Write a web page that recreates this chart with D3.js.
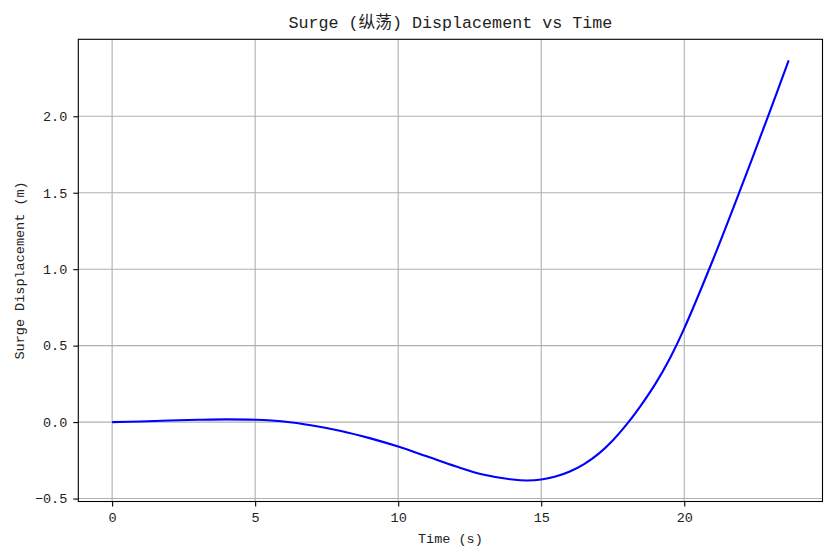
<!DOCTYPE html>
<html>
<head>
<meta charset="utf-8">
<script src="https://cdn.jsdelivr.net/npm/d3@7"></script>
<style>
    html, body { margin: 0; padding: 0; background: #fff; }
    svg text { font-family: "Liberation Mono", "DejaVu Sans Mono", "Noto Sans CJK SC", monospace; fill: #222; }
</style>
</head>
<body>
<svg id="chart" width="834" height="558"></svg>
<script>
// -------------------------
// Data
// -------------------------
const timeS = [0, 1, 2, 3, 4, 5, 6, 7, 8, 9, 10, 11, 12, 13, 14, 14.5, 15, 15.5, 16, 16.5,
    17, 17.5, 18, 18.5, 19, 19.5, 20, 21, 22, 23, 23.65];
const surgeM = [0.000, 0.004, 0.010, 0.015, 0.018, 0.015, 0.004, -0.022, -0.058, -0.105,
    -0.160, -0.224, -0.289, -0.345, -0.376, -0.382, -0.376, -0.356, -0.323, -0.275,
    -0.208, -0.120, -0.012, 0.113, 0.253, 0.418, 0.613, 1.060, 1.540, 2.035, 2.366];
const xTicks = [0, 5, 10, 15, 20];
const yTicks = [-0.5, 0.0, 0.5, 1.0, 1.5, 2.0];
const titleText = "Surge (纵荡) Displacement vs Time";
const xLabel = "Time (s)";
const yLabel = "Surge Displacement (m)";

const points = timeS.map((t, i) => ({t: t, v: surgeM[i]}));

// -------------------------
// Layout
// -------------------------
const W = 834, H = 558;
const margin = {top: 39.3, right: 11.5, bottom: 56.5, left: 78.3};
const iw = W - margin.left - margin.right;
const ih = H - margin.top - margin.bottom;

// matplotlib-like 5% padding around the data
function padded(ext) {
    const pad = (ext[1] - ext[0]) * 0.05;
    return [ext[0] - pad, ext[1] + pad];
}

const x = d3.scaleLinear().domain(padded(d3.extent(timeS))).range([0, iw]);
const y = d3.scaleLinear().domain(padded(d3.extent(surgeM))).range([ih, 0]);

const svg = d3.select("#chart");
const g = svg.append("g").attr("transform", `translate(${margin.left},${margin.top})`);

// -------------------------
// Grid
// -------------------------
g.append("g")
    .selectAll("line")
    .data(xTicks)
    .enter()
    .append("line")
    .attr("x1", d => x(d)).attr("x2", d => x(d))
    .attr("y1", 0).attr("y2", ih)
    .attr("stroke", "#b0b0b0")
    .attr("stroke-width", 1.1);

g.append("g")
    .selectAll("line")
    .data(yTicks)
    .enter()
    .append("line")
    .attr("x1", 0).attr("x2", iw)
    .attr("y1", d => y(d)).attr("y2", d => y(d))
    .attr("stroke", "#b0b0b0")
    .attr("stroke-width", 1.1);

// -------------------------
// Line
// -------------------------
const line = d3.line()
    .x(d => x(d.t))
    .y(d => y(d.v))
    .curve(d3.curveCatmullRom.alpha(0.5));

g.append("path")
    .datum(points)
    .attr("d", line)
    .attr("fill", "none")
    .attr("stroke", "#0000ff")
    .attr("stroke-width", 2.1)
    .attr("stroke-linejoin", "round")
    .attr("stroke-linecap", "butt");

// -------------------------
// Axes
// -------------------------
const xAxis = g.append("g")
    .attr("transform", `translate(0,${ih})`)
    .call(d3.axisBottom(x).tickValues(xTicks).tickFormat(d3.format("d")).tickSize(5).tickPadding(6));

const yAxis = g.append("g")
    .call(d3.axisLeft(y).tickValues(yTicks).tickFormat(d3.format(".1f")).tickSize(5).tickPadding(6));

[xAxis, yAxis].forEach(ax => {
    ax.select(".domain").remove();
    ax.selectAll(".tick line").attr("stroke", "#000").attr("stroke-width", 1.1);
    ax.selectAll(".tick text")
        .attr("fill", "#222")
        .style("font-size", "13.5px")
        .style("font-family", "'Liberation Mono', 'DejaVu Sans Mono', monospace");
});
// minus sign like matplotlib
yAxis.selectAll(".tick text").text(d => d3.format(".1f")(d).replace("-", "\u2212"));

// frame
g.append("rect")
    .attr("x", 0).attr("y", 0)
    .attr("width", iw).attr("height", ih)
    .attr("fill", "none")
    .attr("stroke", "#000")
    .attr("stroke-width", 1.1);

// -------------------------
// Labels
// -------------------------
svg.append("text")
    .attr("x", margin.left + iw / 2)
    .attr("y", 28.3)
    .attr("text-anchor", "middle")
    .style("font-size", "16.7px")
    .text(titleText);

svg.append("text")
    .attr("x", margin.left + iw / 2)
    .attr("y", 543)
    .attr("text-anchor", "middle")
    .style("font-size", "13.5px")
    .text(xLabel);

svg.append("text")
    .attr("transform", `translate(24,${margin.top + ih / 2}) rotate(-90)`)
    .attr("text-anchor", "middle")
    .style("font-size", "13.5px")
    .text(yLabel);
</script>
</body>
</html>
